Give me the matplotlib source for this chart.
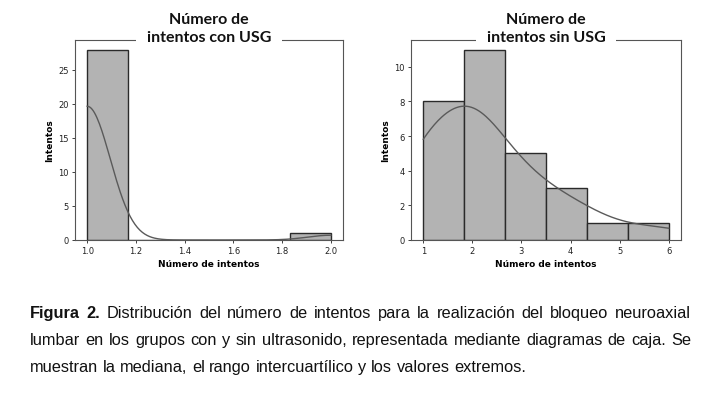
import numpy as np
import matplotlib.pyplot as plt

# intentos por paciente
con_usg = [1] * 28 + [2] * 1
sin_usg = [1] * 8 + [2] * 11 + [3] * 5 + [4] * 3 + [5] * 1 + [6] * 1
n_bins = 6

titles = ['Número de\nintentos con USG', 'Número de\nintentos sin USG']
xlabel = 'Número de intentos'
ylabel = 'Intentos'
left_ticks = [1.0, 1.2, 1.4, 1.6, 1.8, 2.0]
right_ticks = [1, 2, 3, 4, 5, 6]

caption = [
    ('Figura 2.', 'Distribución del número de intentos para la realización del bloqueo neuroaxial'),
    (None, 'lumbar en los grupos con y sin ultrasonido, representada mediante diagramas de caja. Se'),
    (None, 'muestran la mediana, el rango intercuartílico y los valores extremos.'),
]


def kde_counts(values, bins):
    # gaussian kde (scott), scaled to counts like seaborn histplot(kde=True)
    x = np.asarray(values, dtype=float)
    n = len(x)
    bw = x.std(ddof=1) * n ** (-1 / 5)
    grid = np.linspace(x.min(), x.max(), 200)
    dens = np.exp(-0.5 * ((grid[:, None] - x[None, :]) / bw) ** 2).sum(1)
    dens /= n * bw * np.sqrt(2 * np.pi)
    binw = (x.max() - x.min()) / bins
    return grid, dens * n * binw


W, H = 720, 402
fig = plt.figure(figsize=(7.2, 4.02), dpi=100)
renderer = fig.canvas.get_renderer()
axes_px = [(75, 41, 343, 241), (411, 41, 681, 241)]
data = [con_usg, sin_usg]
ticks = [left_ticks, right_ticks]

for (x0, y0, x1, y1), vals, title, tk in zip(axes_px, data, titles, ticks):
    hpx = y1 - y0
    ax = fig.add_axes([x0 / W, 1 - y1 / H, (x1 - x0) / W, hpx / H])
    ax.hist(vals, bins=n_bins, facecolor='#b3b3b3', edgecolor='#2a2a2a', linewidth=1.0)
    gx, gy = kde_counts(vals, n_bins)
    ax.plot(gx, gy, color='#5a5a5a', linewidth=1.0)
    ax.set_xticks(tk)
    ax.tick_params(labelsize=6, length=2.5, width=0.6, colors='#222222', pad=2)
    for s in ax.spines.values():
        s.set_color('#555555')
        s.set_linewidth(0.8)
    ax.set_xlabel(xlabel, fontsize=6.5, fontweight='bold', labelpad=3)
    ax.set_ylabel(ylabel, fontsize=6.5, fontweight='bold', labelpad=3)

    # two-line title sitting on the top spine, spine broken behind it
    lines = title.split('\n')
    offs = [17, -1.5]
    tl = [ax.text(0.5, 1 + o / hpx, ln, transform=ax.transAxes, ha='center',
                  va='baseline', fontsize=11.5, fontweight='bold', family='Lato',
                  color='#111111', zorder=5)
          for ln, o in zip(lines, offs)]
    bb = tl[1].get_window_extent(renderer)
    a = (bb.x0 - 11 - x0) / (x1 - x0)
    b = (bb.x1 + 11 - x0) / (x1 - x0)
    ax.plot([a, b], [1, 1], transform=ax.transAxes, color='white', linewidth=3,
            clip_on=False, zorder=4, solid_capstyle='butt')

# caption, justified lines
cap_x0, cap_x1 = 30 / W, 691 / W
baselines = [318, 345, 372]
fs = 11.8
for i, ((bold, rest), yb) in enumerate(zip(caption, baselines)):
    y = 1 - yb / H
    words = []
    if bold:
        words += [(w, 'bold') for w in bold.split()]
    words += [(w, 'normal') for w in rest.split()]
    arts = [fig.text(0, y, w, fontsize=fs, fontweight=wt, family='Liberation Sans',
                     va='baseline', color='#111111') for w, wt in words]
    widths = [a.get_window_extent(renderer).width / W for a in arts]
    if i < len(caption) - 1:
        gap = (cap_x1 - cap_x0 - sum(widths)) / (len(arts) - 1)
    else:
        gap = fig.text(0, 0, ' ', fontsize=fs, family='Liberation Sans').get_window_extent(renderer).width / W
    x = cap_x0
    for a, w in zip(arts, widths):
        a.set_x(x)
        x += w + gap

fig.savefig('out.png', dpi=100)
